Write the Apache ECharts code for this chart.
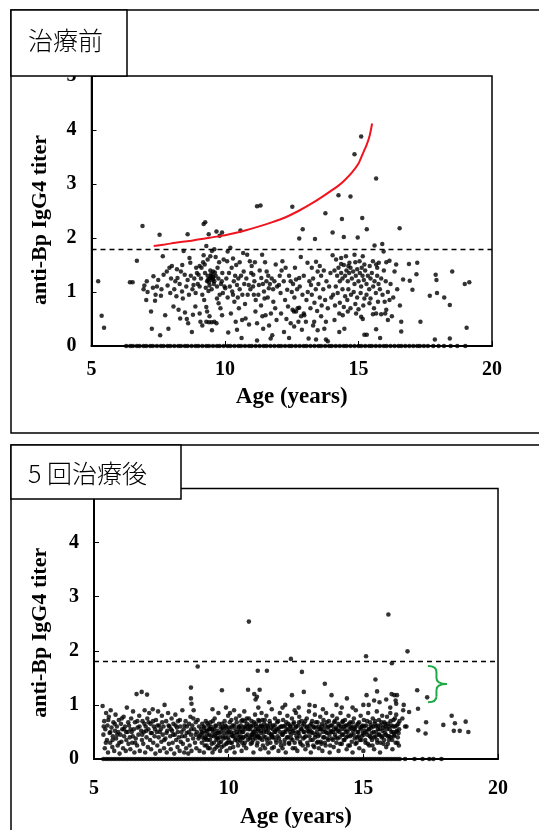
<!DOCTYPE html>
<html><head><meta charset="utf-8">
<script src="https://cdn.jsdelivr.net/npm/echarts@6/dist/echarts.min.js"></script>
<style>html,body{margin:0;padding:0;background:#fff}#c{width:539px;height:830px}</style>
</head><body><div id="c"></div>
<script>
// ---------- data ----------
const panelTitles = ['治療前', '5 回治療後'];
const xAxisName = 'Age (years)';
const yAxisName = 'anti-Bp IgG4 titer';
const xTicks = [5, 10, 15, 20];
const yTicks = [0, 1, 2, 3, 4, 5];
const cutoff = 1.8;

// before treatment: [age, titer]
const beforePoints = [
[5.25,1.2],[5.38,0.56],[5.47,0.34],[6.44,1.18],[6.54,1.18],[6.7,1.58],[6.91,2.22],[6.95,1.05],[6.98,1.12],[7.07,1.2],[7.05,0.85],[7.1,1.0],
[7.23,0.64],[7.26,0.32],[7.32,1.29],[7.38,0.84],[7.55,2.06],[7.57,0.2],[7.6,0.93],[7.67,1.66],[7.7,1.32],[7.76,0.57],[7.82,1.38],[7.92,1.45],[8.01,1.48],[7.88,0.32],[7.45,1.1],[7.5,1.22],[7.62,1.05],[7.85,1.12],[7.95,0.98],[7.98,1.25],[7.3,1.08],[7.4,0.95],
[8.07,0.73],[8.14,1.2],[8.22,1.26],[8.26,0.67],[8.32,0.51],[8.39,1.01],[8.45,1.76],[8.49,1.32],[8.57,0.5],[8.6,2.07],[8.67,1.63],[8.7,1.54],[8.76,0.26],[8.82,1.13],[8.89,0.73],[8.92,1.45],[8.1,1.05],[8.18,0.92],[8.3,1.15],[8.35,1.38],[8.42,0.88],[8.55,1.1],[8.6,1.22],[8.65,0.95],[8.72,1.3],[8.78,1.05],[8.85,1.25],[8.9,0.98],[8.95,1.35],[8.5,0.62],[8.62,0.42],[8.8,0.58],[8.98,1.15],[8.4,1.5],[8.2,1.42],
[9.01,1.32],[9.08,0.45],[9.2,2.26],[9.26,2.29],[9.24,1.51],[9.3,1.85],[9.33,1.2],[9.39,2.07],[9.45,1.66],[9.51,1.76],[9.6,1.79],[9.68,2.12],[9.8,2.04],[9.89,2.1],[9.7,0.88],[9.76,0.79],[9.83,0.7],[9.89,0.57],[9.68,0.42],[9.33,0.64],[9.51,0.29],
[9.35,1.3],[9.42,1.25],[9.48,1.33],[9.55,1.28],[9.6,1.2],[9.65,1.3],[9.42,1.12],[9.5,1.05],[9.38,1.02],[9.28,1.08],[9.55,1.38],[9.45,1.4],[9.52,1.22],[9.58,1.15],[9.62,1.36],[9.4,1.18],[9.47,1.27],[9.5,1.3],[9.56,1.24],[9.36,1.22],
[9.05,1.1],[9.1,1.25],[9.15,0.95],[9.12,1.45],[9.18,1.55],[9.22,0.85],[9.25,1.35],[9.3,0.72],[9.05,0.6],[9.15,0.38],[9.3,0.45],[9.4,0.44],[9.5,0.44],[9.6,0.45],[9.42,0.55],[9.7,1.1],[9.75,1.25],[9.8,0.95],[9.85,1.15],[9.9,1.35],[9.95,1.6],[9.72,1.45],[9.78,1.55],[9.65,1.65],[9.88,1.2],[9.92,0.98],[9.98,1.1],[9.2,1.68],[9.35,1.6],[9.05,1.48],
[10.01,1.07],[10.08,1.57],[10.2,1.82],[10.27,1.01],[10.33,1.2],[10.35,0.82],[10.45,1.13],[10.52,0.7],[10.58,2.14],[10.64,0.48],[10.7,1.38],[10.77,0.51],[10.83,1.69],[10.89,1.13],[10.93,1.57],[10.05,1.25],[10.1,0.9],[10.15,1.35],[10.18,1.1],[10.22,0.6],[10.25,1.45],[10.3,0.95],[10.38,1.3],[10.42,1.5],[10.48,0.9],[10.5,1.25],[10.55,1.05],[10.6,1.3],[10.65,0.95],[10.72,1.15],[10.75,0.78],[10.8,1.25],[10.85,0.95],[10.9,0.4],[10.95,1.05],[10.12,0.25],[10.4,0.45],[10.62,0.15],[10.3,1.62],[10.55,1.55],[10.68,1.72],[10.1,1.75],[10.98,1.35],[10.45,0.3],
[11.0,1.48],[11.06,1.32],[11.08,0.95],[11.14,0.64],[11.2,2.59],[11.33,2.6],[11.2,0.42],[11.27,1.13],[11.36,1.26],[11.39,1.69],[11.43,0.32],[11.46,1.01],[11.52,0.57],[11.56,1.38],[11.64,1.07],[11.71,0.14],[11.77,0.2],[11.81,0.82],[11.9,1.51],[11.93,0.48],[11.05,1.1],[11.1,1.2],[11.15,0.85],[11.25,0.95],[11.3,1.4],[11.35,0.75],[11.42,1.15],[11.48,0.88],[11.55,1.2],[11.6,0.9],[11.62,1.3],[11.68,1.15],[11.72,0.6],[11.75,1.25],[11.8,1.05],[11.85,1.2],[11.88,0.7],[11.95,1.1],[11.5,1.55],[11.12,1.55],[11.2,0.1],[11.65,0.38],[11.4,0.55],
[12.02,1.13],[12.08,0.98],[12.15,1.57],[12.21,0.26],[12.27,1.45],[12.33,1.04],[12.36,0.73],[12.46,0.42],[12.52,2.58],[12.46,1.2],[12.58,0.64],[12.66,1.23],[12.78,1.26],[12.91,2.16],[12.78,1.99],[12.84,1.65],[12.59,0.36],[12.05,1.3],[12.1,0.6],[12.2,1.2],[12.25,0.85],[12.4,1.3],[12.5,1.0],[12.55,1.15],[12.6,0.9],[12.7,1.05],[12.72,0.7],[12.8,1.1],[12.85,0.55],[12.9,0.95],[12.95,1.3],[12.62,1.45],[12.3,0.5],[12.75,0.45],[12.12,1.4],[12.88,0.3],[12.4,0.15],[12.95,0.6],[12.53,0.67],[12.66,0.64],[12.78,0.71],
[13.09,1.54],[13.41,1.56],[13.47,1.38],[13.16,1.2],[13.22,1.13],[13.37,1.98],[13.76,2.46],[12.97,0.57],[13.03,0.45],[13.34,0.45],[13.47,0.29],[13.72,0.32],[13.78,0.45],[13.13,0.14],[13.41,0.12],[13.78,0.12],[13.85,0.09],
[13.05,0.85],[13.1,1.0],[13.2,0.7],[13.25,0.95],[13.3,1.25],[13.35,0.8],[13.4,1.05],[13.45,0.65],[13.5,1.15],[13.55,0.9],[13.6,1.3],[13.62,0.75],[13.68,1.05],[13.7,1.4],[13.75,0.85],[13.8,1.2],[13.85,0.7],[13.9,1.1],[13.95,1.35],[13.98,0.9],[13.25,1.45],[13.55,1.48],[13.6,0.55],[13.3,0.38],
[14.1,0.48],[14.28,0.6],[14.41,0.57],[14.28,0.26],[14.47,0.32],[14.6,0.64],[14.91,0.6],[15.1,0.54],[15.16,0.5],[15.22,0.88],[15.41,0.79],[15.73,0.82],[15.98,0.82],[16.16,0.85],[15.54,0.59],[15.66,0.6],[15.85,0.59],[16.04,0.67],[16.1,0.48],[15.66,0.31],[15.81,0.15],[15.22,0.21],[15.31,0.21],
[14.03,2.1],[14.25,2.79],[14.7,2.77],[14.38,2.35],[15.14,2.37],[14.45,2.02],[14.97,2.01],[15.31,2.16],[15.6,1.86],[15.89,1.89],[15.94,1.75],[15.66,3.1],[14.85,3.55],[15.1,3.88],[16.54,2.18],
[14.03,1.68],[14.16,1.6],[14.35,1.63],[14.53,1.66],[14.66,1.54],[14.85,1.69],[15.04,1.57],[15.16,1.66],[15.22,1.51],[15.54,1.57],[15.66,1.51],[15.76,1.54],[16.04,1.55],[16.16,1.58],[16.41,1.51],[16.89,1.52],[17.2,1.54],
[14.1,1.4],[14.2,1.3],[14.25,1.45],[14.3,1.2],[14.35,1.35],[14.4,1.25],[14.45,1.5],[14.5,1.3],[14.55,1.4],[14.6,1.2],[14.65,1.35],[14.7,1.45],[14.75,1.25],[14.8,1.38],[14.85,1.15],[14.9,1.3],[14.95,1.42],[15.0,1.2],[15.05,1.35],[15.1,1.1],[15.15,1.3],[15.2,1.22],[15.25,1.4],[15.3,1.15],[15.35,1.3],[15.4,1.05],[15.45,1.25],[15.5,1.35],[15.55,1.1],[15.6,1.2],[15.65,0.98],[15.7,1.3],[15.75,1.15],[15.8,1.05],[15.85,1.25],[15.9,0.95],[15.95,1.4],
[14.15,1.1],[14.22,0.98],[14.4,1.05],[14.5,0.92],[14.62,1.05],[14.72,0.95],[14.82,1.0],[14.95,0.9],[15.08,0.98],[15.18,0.75],[15.3,0.95],[15.45,0.88],[15.58,0.7],[14.3,0.8],[14.45,0.72],[14.58,0.85],[14.7,0.7],[14.88,0.78],[15.0,0.68],[14.12,0.75],[14.05,0.95],[14.35,1.52],[14.62,1.48],[14.88,1.55],[15.12,1.45],[15.42,1.48],[15.7,1.45],
[16.35,1.38],[16.67,1.23],[16.92,1.21],[17.17,1.33],[17.02,1.04],[16.02,1.2],[16.1,1.0],[16.2,1.15],[16.3,0.9],[16.45,1.05],[16.55,0.75],[16.0,0.6],[16.25,0.55],[16.6,0.45],
[17.67,0.93],[17.94,0.98],[18.21,0.9],[18.42,0.76],[17.89,1.32],[17.92,1.22],[18.51,1.38],[18.98,1.15],[19.15,1.18],[17.32,0.45],[16.6,0.27],[17.86,0.12],[18.42,0.14],[19.05,0.34]
];
const beforeZeroAges = [6.3,6.45,6.55,6.7,6.8,6.95,7.05,7.2,7.3,7.45,7.6,7.7,7.85,7.95,8.1,8.25,8.35,8.5,8.6,8.75,8.9,9.0,9.15,9.3,9.4,9.55,9.7,9.8,9.95,10.1,10.2,10.35,10.5,10.6,10.75,10.9,11.0,11.15,11.3,11.45,11.55,11.7,11.85,12.0,12.1,12.25,12.4,12.5,12.65,12.8,12.95,13.05,13.2,13.35,13.5,13.6,13.75,13.9,14.0,14.15,14.3,14.45,14.55,14.7,14.85,15.0,15.1,15.25,15.4,15.5,15.65,15.8,15.95,16.05,16.2,16.35,16.5,16.6,16.75,16.9,17.05,17.2,17.3,17.45,17.6,17.8,18.0,18.2,18.45,18.7,19.0];

// after 5 treatments: [age, titer]
const afterPoints = [
[5.32,0.98],[5.35,0.45],[5.38,0.7],[5.4,0.2],[5.42,0.55],[5.45,0.85],[5.48,0.35],[5.5,0.62],[5.52,0.12],[5.55,0.78],[5.58,0.48],[5.6,0.3],[5.62,0.9],[5.65,0.58],[5.68,0.22],[5.7,0.42],[5.72,0.68],[5.75,0.15],[5.78,0.52],
[5.8,0.82],[5.82,0.38],[5.85,0.6],[5.88,0.25],[5.9,0.5],[5.92,0.72],[5.95,0.1],[5.98,0.45],[6.0,0.65],[6.02,0.32],[6.05,0.55],[6.08,0.2],[6.1,0.78],[6.12,0.42],[6.15,0.6],[6.18,0.15],[6.2,0.35],[6.22,0.95],[6.25,0.5],[6.28,0.28],
[6.3,0.62],[6.33,0.4],[6.35,0.18],[6.38,0.75],[6.4,0.5],[6.42,0.3],[6.45,0.88],[6.48,0.55],[6.5,0.12],[6.52,0.68],[6.55,0.38],[6.58,1.2],[6.6,0.25],[6.62,0.58],[6.65,0.45],[6.68,0.8],[6.7,0.15],[6.77,1.24],[6.75,0.52],[6.78,0.35],
[6.8,0.7],[6.83,0.28],[6.85,0.5],[6.88,0.9],[6.9,0.12],[6.92,0.6],[6.97,1.19],[6.95,0.4],[6.98,0.75],[7.0,0.22],[7.02,0.55],[7.05,0.85],[7.08,0.35],[7.1,0.65],[7.12,0.18],[7.15,0.48],[7.18,0.92],[7.2,0.3],[7.22,0.6],[7.25,0.42],[7.28,0.1],
[7.3,0.72],[7.33,0.5],[7.35,0.25],[7.38,0.88],[7.4,0.4],[7.42,0.62],[7.45,0.15],[7.48,0.55],[7.5,0.32],[7.52,0.8],[7.55,0.45],[7.58,0.6],[7.6,0.2],[7.62,1.0],[7.65,0.38],[7.68,0.7],[7.7,0.12],[7.72,0.52],[7.75,0.85],[7.78,0.28],
[7.8,0.6],[7.83,0.42],[7.85,0.18],[7.88,0.75],[7.9,0.52],[7.92,0.3],[7.95,0.65],[7.98,0.1],[8.0,0.45],[8.02,0.82],[8.05,0.35],[8.08,0.58],[8.1,0.22],[8.12,0.7],[8.15,0.4],[8.18,0.15],[8.2,0.6],[8.22,0.32],[8.25,0.5],[8.28,0.9],
[8.3,0.28],[8.33,0.55],[8.35,0.12],[8.38,0.42],[8.4,0.7],[8.42,0.2],[8.45,0.6],[8.48,0.35],[8.5,0.1],[8.52,0.5],[8.55,0.25],[8.58,0.78],[8.6,0.45],[8.62,0.15],[8.65,0.62],[8.68,0.38],[8.7,0.9],[8.72,0.55],[8.75,0.3],[8.78,0.68],[8.6,1.32],[8.6,1.12],[8.62,1.02],[8.85,1.71],
[8.8,0.2],[8.82,0.5],[8.85,0.72],[8.88,0.38],[8.9,0.6],[8.92,0.15],[8.95,0.45],[8.98,0.55],[9.0,0.3],[9.02,0.65],[9.05,0.48],[9.08,0.12],[9.1,0.58],[9.12,0.4],[9.15,0.7],[9.18,0.25],[9.2,0.52],[9.22,0.35],[9.25,0.62],[9.28,0.45],[8.9,0.42],[9.0,0.5],[9.1,0.35],[9.2,0.45],[9.3,0.55],
[9.3,0.2],[9.32,0.68],[9.35,0.42],[9.38,0.55],[9.4,0.12],[9.42,0.5],[9.45,0.3],[9.48,0.75],[9.5,0.45],[9.52,0.6],[9.55,0.22],[9.58,0.52],[9.6,0.38],[9.62,0.85],[9.65,0.48],[9.68,0.15],[9.7,0.58],[9.72,0.32],[9.75,1.27],[9.75,0.65],[9.78,0.42],[9.45,0.55],[9.55,0.4],[9.65,0.3],[9.4,0.92],
[9.8,0.55],[9.82,0.25],[9.85,0.7],[9.88,0.4],[9.9,0.6],[9.92,0.15],[9.95,0.48],[9.98,0.8],[10.0,0.35],[10.02,0.58],[10.05,0.2],[10.08,0.5],[10.1,0.72],[10.12,0.3],[10.15,0.62],[10.18,0.42],[10.2,0.9],[10.22,0.12],[10.25,0.55],[10.28,0.38],[9.9,0.95],[10.05,0.85],[10.2,0.48],[10.1,0.45],[9.95,0.3],
[10.3,0.68],[10.32,0.45],[10.35,0.25],[10.38,0.58],[10.4,0.8],[10.42,0.35],[10.45,0.62],[10.48,0.15],[10.5,0.5],[10.52,0.72],[10.55,0.4],[10.58,0.88],[10.6,0.3],[10.62,0.55],[10.65,0.2],[10.68,0.65],[10.7,0.45],[10.72,1.28],[10.75,0.75],[10.78,0.38],[10.75,2.54],[10.4,0.5],[10.5,0.3],[10.6,0.7],[10.7,0.6],[10.55,0.58],[10.45,0.42],
[10.8,0.55],[10.82,0.28],[10.85,0.7],[10.88,0.45],[10.9,0.62],[10.92,0.12],[10.95,0.5],[10.98,0.82],[11.0,0.38],[11.02,0.6],[11.05,0.25],[11.08,0.52],[11.1,0.72],[11.12,0.4],[11.15,0.6],[11.18,0.18],[11.2,0.48],[11.22,0.85],[11.25,0.35],[11.28,0.58],[11.08,1.63],[11.42,1.63],[10.95,1.2],[11.0,1.1],[11.05,1.15],[11.1,0.95],[11.15,1.28],[10.85,0.45],[10.9,0.35],[11.0,0.55],[11.1,0.42],[11.2,0.62],[11.25,0.72],
[11.3,0.42],[11.32,0.65],[11.35,0.2],[11.38,0.55],[11.4,0.8],[11.42,0.35],[11.45,0.6],[11.48,0.12],[11.5,0.48],[11.52,0.7],[11.55,0.3],[11.58,0.58],[11.6,0.92],[11.62,0.4],[11.65,0.62],[11.68,0.22],[11.7,0.5],[11.72,0.75],[11.75,0.35],[11.78,0.55],[11.5,1.05],[11.4,0.5],[11.6,0.45],
[11.8,0.68],[11.82,0.42],[11.85,0.15],[11.88,0.58],[11.9,0.85],[11.92,0.32],[11.95,0.6],[11.98,0.45],[12.0,0.2],[12.02,0.72],[12.05,0.5],[12.08,0.35],[12.1,0.62],[12.12,0.12],[12.15,0.55],[12.18,0.8],[12.2,0.4],[12.22,0.65],[12.25,0.28],[12.28,0.5],[12.31,1.85],[12.0,0.95],[12.1,1.0],
[12.3,0.6],[12.32,0.38],[12.35,1.18],[12.35,0.75],[12.38,0.2],[12.4,0.52],[12.42,0.68],[12.45,0.3],[12.48,0.58],[12.5,0.85],[12.52,0.42],[12.55,0.15],[12.58,0.62],[12.6,0.48],[12.62,0.78],[12.65,0.32],[12.68,0.55],[12.7,0.7],[12.72,1.61],[12.75,0.25],[12.78,0.5],[12.79,1.24],[12.6,0.95],[12.45,0.9],
[12.8,0.65],[12.82,0.4],[12.85,0.18],[12.88,0.58],[12.9,0.75],[12.92,0.3],[12.95,0.52],[12.98,0.88],[13.0,0.42],[13.02,0.62],[13.05,0.12],[13.08,0.5],[13.1,0.7],[13.12,0.35],[13.15,0.6],[13.18,0.22],[13.2,0.82],[13.22,0.45],[13.25,0.58],[13.28,0.3],[13.0,1.0],[13.2,0.98],
[13.3,0.68],[13.32,0.42],[13.35,0.2],[13.38,0.55],[13.4,0.78],[13.42,0.32],[13.45,0.6],[13.48,0.15],[13.5,0.5],[13.52,0.72],[13.55,0.4],[13.57,1.39],[13.58,0.62],[13.6,0.25],[13.62,0.85],[13.65,0.48],[13.68,0.58],[13.7,0.35],[13.72,0.7],[13.75,0.12],[13.78,0.52],[13.82,1.18],[13.5,0.92],
[13.8,0.62],[13.82,0.38],[13.85,0.8],[13.88,0.5],[13.9,0.22],[13.92,0.68],[13.95,0.45],[13.98,0.58],[14.0,0.3],[14.02,0.75],[14.05,0.52],[14.08,0.15],[14.1,0.62],[14.12,0.4],[14.15,0.85],[14.18,0.55],[14.2,0.28],[14.22,0.68],[14.25,0.45],[14.28,0.6],[14.0,1.0],[14.2,0.95],
[14.3,0.35],[14.32,0.72],[14.35,0.5],[14.38,0.18],[14.39,1.12],[14.4,0.62],[14.42,0.42],[14.45,0.8],[14.48,0.55],[14.5,0.25],[14.52,0.68],[14.55,0.45],[14.58,0.6],[14.6,0.12],[14.62,0.52],[14.65,0.75],[14.68,0.38],[14.7,0.58],[14.72,0.9],[14.75,0.3],[14.78,0.5],[14.6,0.95],
[14.8,0.65],[14.82,0.42],[14.85,0.2],[14.88,0.58],[14.9,0.8],[14.92,0.35],[14.95,0.6],[14.98,0.48],[15.0,0.15],[15.02,0.72],[15.05,0.52],[15.08,0.3],[15.1,1.9],[15.1,0.62],[15.12,1.18],[15.15,0.45],[15.18,0.85],[15.2,0.55],[15.22,0.25],[15.25,0.68],[15.28,0.4],[15.0,1.0],[15.2,1.0],
[15.3,0.58],[15.32,0.35],[15.35,0.75],[15.38,0.5],[15.4,0.18],[15.42,0.65],[15.45,1.47],[15.45,0.42],[15.48,0.6],[15.5,0.88],[15.51,1.25],[15.52,0.3],[15.55,0.55],[15.58,0.72],[15.6,0.45],[15.62,0.12],[15.65,0.62],[15.68,0.4],[15.7,0.8],[15.72,0.52],[15.75,0.28],[15.78,0.68],[15.6,1.05],[15.4,1.08],
[15.8,0.48],[15.82,0.6],[15.85,0.22],[15.88,0.78],[15.9,0.42],[15.92,0.65],[15.93,2.67],[15.95,0.35],[15.98,0.55],[16.0,0.85],[16.02,0.4],[16.05,0.62],[16.06,1.77],[16.08,0.18],[16.1,0.5],[16.12,0.72],[16.15,0.45],[16.18,0.6],[16.2,0.3],[16.22,0.82],[16.25,0.52],[16.28,0.4],[16.3,0.65],[16.32,0.25],[16.33,0.55],[15.85,1.1],[16.05,1.2],[16.15,1.18],[16.25,1.18],[16.2,1.08],[16.22,1.02],[16.0,0.95],
[16.64,1.99],[16.5,1.0],[16.45,0.75],[16.55,0.6],[16.48,0.9],[17.0,1.27],[17.37,1.14],[17.03,0.93],[17.33,0.68],[17.04,0.53],[17.31,0.47],[17.97,0.63],[18.28,0.8],[18.4,0.66],[18.8,0.69],[18.36,0.52],[18.58,0.52],[18.9,0.5],[16.7,0.87],[16.6,0.6],
[5.36,0.6],[5.44,0.3],[5.53,0.72],[5.61,0.5],[5.69,0.35],[5.77,0.65],[5.86,0.45],[5.94,0.3],[6.03,0.75],[6.11,0.55],[6.19,0.5],[6.27,0.68],[6.36,0.55],[6.44,0.42],[6.53,0.3],[6.61,0.7],[6.69,0.6],[6.79,0.45],[6.87,0.65],[6.94,0.52],[7.03,0.68],[7.11,0.48],[7.19,0.7],[7.27,0.55],[7.36,0.62],[7.44,0.5],[7.53,0.68],[7.61,0.35],[7.69,0.48],[7.77,0.62],[7.86,0.55],[7.94,0.45],[8.03,0.62],[8.11,0.5],[8.19,0.72],[8.27,0.42],[8.36,0.62],[8.44,0.48],[8.53,0.65],[8.61,0.55],[8.69,0.75],[8.77,0.45],
[9.03,0.4],[9.07,0.6],[9.11,0.25],[9.14,0.52],[9.17,0.38],[9.21,0.66],[9.24,0.2],[9.27,0.55],[9.31,0.35],[9.34,0.6],[9.37,0.28],[9.41,0.7],[9.44,0.42],[9.47,0.18],[9.51,0.62],[9.54,0.35],[9.57,0.48],[9.61,0.25],[9.64,0.65],[9.67,0.4],[9.71,0.5],[9.74,0.22],[9.77,0.58],[9.81,0.38],[9.84,0.48],[9.87,0.62],[9.91,0.28],[9.94,0.55],[9.97,0.4],
[10.01,0.5],[10.04,0.68],[10.07,0.3],[10.11,0.58],[10.14,0.42],[10.17,0.22],[10.21,0.62],[10.24,0.35],[10.27,0.75],[10.31,0.5],[10.34,0.32],[10.37,0.6],[10.41,0.4],[10.44,0.55],[10.47,0.7],[10.51,0.38],[10.54,0.5],[10.57,0.25],[10.61,0.6],[10.64,0.42],[10.67,0.75],[10.71,0.35],[10.74,0.55],[10.77,0.62],[10.81,0.4],[10.84,0.6],[10.87,0.3],[10.91,0.5],[10.94,0.68],[10.97,0.42],
[11.01,0.65],[11.04,0.45],[11.07,0.3],[11.11,0.55],[11.14,0.7],[11.17,0.38],[11.21,0.52],[11.24,0.6],[11.27,0.25],[11.31,0.5],[11.34,0.72],[11.37,0.4],[11.41,0.62],[11.44,0.28],[11.47,0.55],[11.51,0.38],[11.54,0.65],[11.57,0.45],[11.61,0.2],[11.64,0.55],[11.67,0.4],[11.71,0.62],[11.74,0.5],[11.77,0.3],[11.81,0.55],[11.84,0.7],[11.87,0.38],[11.91,0.5],[11.94,0.25],[11.97,0.6],
[12.01,0.45],[12.04,0.6],[12.07,0.28],[12.11,0.5],[12.14,0.68],[12.17,0.4],[12.21,0.55],[12.24,0.3],[12.27,0.62],[12.31,0.45],[12.34,0.55],[12.37,0.35],[12.41,0.65],[12.44,0.48],[12.47,0.2],[12.51,0.6],[12.54,0.38],[12.57,0.5],[12.61,0.68],[12.64,0.42],[12.67,0.28],[12.71,0.55],[12.74,0.62],[12.77,0.38],[12.81,0.5],[12.84,0.7],[12.87,0.42],[12.91,0.6],[12.94,0.25],[12.97,0.5],
[13.01,0.55],[13.04,0.35],[13.07,0.65],[13.11,0.48],[13.14,0.25],[13.17,0.58],[13.21,0.4],[13.24,0.68],[13.27,0.5],[13.31,0.32],[13.34,0.6],[13.37,0.45],[13.41,0.55],[13.44,0.28],[13.47,0.65],[13.51,0.4],[13.54,0.55],[13.57,0.3],[13.61,0.5],[13.64,0.68],[13.67,0.38],[13.71,0.6],[13.74,0.45],[13.77,0.25],[13.81,0.5],[13.84,0.62],[13.87,0.35],[13.91,0.55],[13.94,0.7],[13.97,0.4],
[14.01,0.55],[14.04,0.38],[14.07,0.65],[14.11,0.5],[14.14,0.28],[14.17,0.6],[14.21,0.45],[14.24,0.7],[14.27,0.35],[14.31,0.55],[14.34,0.62],[14.37,0.4],[14.41,0.5],[14.44,0.25],[14.47,0.65],[14.51,0.42],[14.54,0.58],[14.57,0.32],[14.61,0.68],[14.64,0.45],[14.67,0.55],[14.71,0.28],[14.74,0.62],[14.77,0.4],[14.81,0.5],[14.84,0.68],[14.87,0.35],[14.91,0.55],[14.94,0.42],[14.97,0.62],
[15.01,0.45],[15.04,0.6],[15.07,0.35],[15.11,0.5],[15.14,0.7],[15.17,0.28],[15.21,0.55],[15.24,0.42],[15.27,0.62],[15.31,0.48],[15.34,0.25],[15.37,0.6],[15.41,0.4],[15.44,0.7],[15.47,0.5],[15.51,0.35],[15.54,0.62],[15.57,0.45],[15.61,0.55],[15.64,0.3],[15.67,0.68],[15.71,0.42],[15.74,0.58],[15.77,0.35],[15.81,0.65],[15.84,0.45],[15.87,0.55],[15.91,0.28],[15.94,0.6],[15.97,0.42],[16.01,0.7],[16.04,0.5],[16.07,0.35],[16.11,0.6],[16.14,0.42],[16.17,0.75],[16.21,0.5],[16.24,0.62],[16.27,0.3],[16.31,0.48],[16.34,0.7]
];
const afterZeroAges = [5.35,5.45,5.55,5.65,5.75,5.85,5.95,6.05,6.15,6.25,6.35,6.45,6.55,6.65,6.75,6.85,6.95,7.05,7.15,7.25,7.35,7.45,7.55,7.65,7.75,7.85,7.95,8.05,8.15,8.25,8.35,8.45,8.55,8.65,8.75,8.85,8.95,9.05,9.15,9.25,9.35,9.45,9.55,9.65,9.75,9.85,9.95,10.05,10.15,10.25,10.35,10.45,10.55,10.65,10.75,10.85,10.95,11.05,11.15,11.25,11.35,11.45,11.55,11.65,11.75,11.85,11.95,12.05,12.15,12.25,12.35,12.45,12.55,12.65,12.75,12.85,12.95,13.05,13.15,13.25,13.35,13.45,13.55,13.65,13.75,13.85,13.95,14.05,14.15,14.25,14.35,14.45,14.55,14.65,14.75,14.85,14.95,15.05,15.15,15.25,15.35,15.45,15.55,15.65,15.75,15.85,15.95,16.05,16.15,16.25,16.35,16.55,16.9,17.2,17.45,17.6,17.9];

// red trend curve (before treatment)
const trendCurve = [[7.33,1.85],[7.75,1.88],[8.25,1.92],[8.75,1.95],[9.25,1.99],[9.75,2.03],[10.25,2.08],[10.75,2.14],[11.25,2.21],[11.75,2.29],[12.25,2.38],[12.75,2.5],[13.25,2.64],[13.75,2.8],[14.25,2.97],[14.5,3.08],[14.75,3.21],[15.0,3.38],[15.15,3.55],[15.3,3.72],[15.42,3.9],[15.51,4.12]];

// green brace (after treatment), in data units
const braceX = [17.4, 18.1];
const braceY = [1.05, 1.72];

// ---------- chart ----------
const serif = '"Liberation Serif","Times New Roman",serif';
const cjk = '"Noto Sans CJK JP","Noto Sans CJK SC",sans-serif';
const chart = echarts.init(document.getElementById('c'), null, {renderer: 'canvas'});

const grids = [
  {left: 91.5, top: 76, width: 400.5, height: 270},
  {left: 94, top: 488.5, width: 404, height: 272.5}
];
const xNameGaps = [40, 47];
const yNameGaps = [40, 43];
const labelMargins = [14, 20];
const dotSizes = [4.5, 4.6];

function xAxisFor(i) {
  return {
    gridIndex: i, type: 'value', min: xTicks[0], max: xTicks[xTicks.length - 1], interval: 5,
    axisLine: {show: true, onZero: false, lineStyle: {color: '#000', width: 2}},
    axisTick: {show: true, inside: true, length: 5, lineStyle: {color: '#000', width: 1}},
    axisLabel: {color: '#000', fontFamily: serif, fontWeight: 'bold', fontSize: 20, margin: labelMargins[i]},
    splitLine: {show: false},
    name: xAxisName, nameLocation: 'middle', nameGap: xNameGaps[i],
    nameTextStyle: {color: '#000', fontFamily: serif, fontWeight: 'bold', fontSize: 23}
  };
}
function yAxisFor(i) {
  return {
    gridIndex: i, type: 'value', min: yTicks[0], max: yTicks[yTicks.length - 1], interval: 1,
    axisLine: {show: true, onZero: false, lineStyle: {color: '#000', width: 2}},
    axisTick: {show: true, inside: true, length: 5, lineStyle: {color: '#000', width: 1}},
    axisLabel: {color: '#000', fontFamily: serif, fontWeight: 'bold', fontSize: 20, margin: 15},
    splitLine: {show: false},
    name: yAxisName, nameLocation: 'middle', nameGap: yNameGaps[i], nameRotate: 90,
    nameTextStyle: {color: '#000', fontFamily: serif, fontWeight: 'bold', fontSize: 22, padding: [0, 18, 0, 0]}
  };
}
const cutoffLine = {
  silent: true, symbol: ['none', 'none'], label: {show: false},
  lineStyle: {color: '#000', type: [5, 4], width: 1.3},
  data: [{yAxis: cutoff}]
};

const option = {
  animation: false,
  backgroundColor: '#fff',
  grid: grids.map(g => Object.assign({show: true, borderColor: '#000', borderWidth: 1.5, backgroundColor: 'transparent'}, g)),
  xAxis: [xAxisFor(0), xAxisFor(1)],
  yAxis: [yAxisFor(0), yAxisFor(1)],
  series: [
    {type: 'scatter', xAxisIndex: 0, yAxisIndex: 0, symbolSize: dotSizes[0], itemStyle: {color: '#000'},
     data: beforePoints.concat(beforeZeroAges.map(a => [a, 0])), markLine: cutoffLine, z: 3},
    {type: 'line', xAxisIndex: 0, yAxisIndex: 0, data: trendCurve, smooth: 0.2, showSymbol: false,
     symbol: 'none', lineStyle: {color: '#f0141e', width: 2}, z: 4},
    {type: 'scatter', xAxisIndex: 1, yAxisIndex: 1, symbolSize: dotSizes[1], itemStyle: {color: '#000'},
     data: afterPoints.concat(afterZeroAges.map(a => [a, 0])), markLine: cutoffLine, z: 3},
    {type: 'custom', xAxisIndex: 1, yAxisIndex: 1, silent: true, z: 5,
     data: [[braceX[0], braceY[0]]],
     renderItem: function (params, api) {
       const pTop = api.coord([braceX[0], braceY[1]]);
       const pBot = api.coord([braceX[0], braceY[0]]);
       const pTip = api.coord([braceX[1], (braceY[0] + braceY[1]) / 2]);
       const xl = pTop[0], xr = pTip[0], xm = xl + (xr - xl) * 0.45;
       const yt = pTop[1], yb = pBot[1], ym = pTip[1];
       const st = {stroke: '#1eaa46', lineWidth: 2, fill: null};
       return {type: 'group', children: [
         {type: 'bezierCurve', shape: {x1: xl, y1: yt, cpx1: xm, cpy1: yt, x2: xm, y2: yt + 6}, style: st},
         {type: 'line', shape: {x1: xm, y1: yt + 6, x2: xm, y2: ym - 6}, style: st},
         {type: 'bezierCurve', shape: {x1: xm, y1: ym - 6, cpx1: xm, cpy1: ym, x2: xr, y2: ym}, style: st},
         {type: 'bezierCurve', shape: {x1: xr, y1: ym, cpx1: xm, cpy1: ym, x2: xm, y2: ym + 6}, style: st},
         {type: 'line', shape: {x1: xm, y1: ym + 6, x2: xm, y2: yb - 6}, style: st},
         {type: 'bezierCurve', shape: {x1: xm, y1: yb - 6, cpx1: xm, cpy1: yb, x2: xl, y2: yb}, style: st}
       ]};
     }}
  ],
  graphic: [
    {type: 'rect', shape: {x: 11, y: 10, width: 600, height: 423}, style: {fill: 'none', stroke: '#000', lineWidth: 1.5}, z: 50},
    {type: 'rect', shape: {x: 11, y: 445, width: 600, height: 440}, style: {fill: 'none', stroke: '#000', lineWidth: 1.5}, z: 50},
    {type: 'rect', shape: {x: 11, y: 10, width: 116, height: 66}, style: {fill: '#fff', stroke: '#000', lineWidth: 1.5}, z: 100},
    {type: 'text', z: 101, style: {text: panelTitles[0], x: 28, y: 40, fontSize: 25, fontFamily: cjk, fontWeight: 300, fill: '#000', verticalAlign: 'middle', textVerticalAlign: 'middle'}},
    {type: 'rect', shape: {x: 11, y: 445, width: 170, height: 54}, style: {fill: '#fff', stroke: '#000', lineWidth: 1.5}, z: 100},
    {type: 'text', z: 101, style: {text: panelTitles[1], x: 28, y: 473, fontSize: 25, fontFamily: cjk, fontWeight: 300, fill: '#000', verticalAlign: 'middle', textVerticalAlign: 'middle'}}
  ]
};
chart.setOption(option);
</script>
</body></html>
